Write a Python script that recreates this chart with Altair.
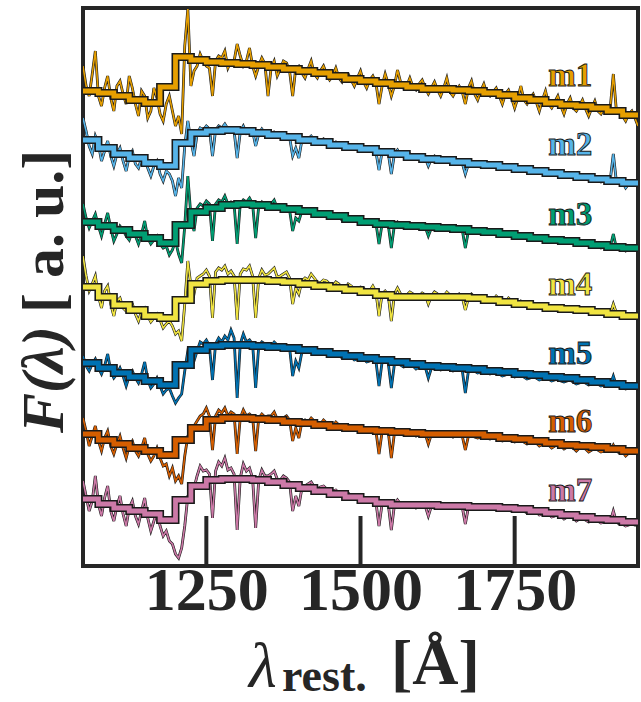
import altair as alt
import pandas as pd

# ---------------- data ----------------
SERIES = ["m1", "m2", "m3", "m4", "m5", "m6", "m7"]
COLORS = ["#E69F00", "#56B4E9", "#009E73", "#F0E442", "#0072B2", "#D55E00", "#CC79A7"]

WAVE_A = list(range(1050, 1951, 10))      # spectrum samples at 1050, 1060, ... [Å]
WAVE_B = list(range(1055, 1946, 10))      # spectrum samples at 1055, 1065, ... [Å]
BIN_EDGES = list(range(1050, 1951, 25))   # edges of the binned (step) spectra [Å]
TICKS = [1250, 1500, 1750]

# noisy spectra (arbitrary flux units, vertically offset), samples on WAVE_A
m1_a = [500, 470, 515, 460, 490, 455, 485, 462, 478, 450,
        470, 455, 468, 445, 470, 440, 432, 557, 495, 512,
        500, 470, 510, 515, 505, 522, 500, 518, 490, 508,
        470, 505, 497, 503, 470, 500, 488, 505, 488, 500,
        486, 498, 484, 492, 480, 495, 478, 490, 462, 492,
        470, 496, 478, 488, 476, 486, 472, 484, 470, 488,
        470, 480, 462, 485, 466, 482, 470, 478, 462, 476,
        458, 480, 462, 472, 455, 475, 458, 470, 452, 468,
        455, 466, 450, 465, 452, 460, 492, 452, 445, 455, 440]
m2_a = [448, 420, 430, 405, 425, 400, 418, 395, 415, 398,
        408, 390, 405, 385, 392, 370, 378, 445, 410, 438,
        440, 410, 440, 442, 436, 408, 440, 436, 420, 437,
        432, 434, 430, 431, 410, 408, 428, 430, 424, 427,
        421, 424, 419, 422, 418, 420, 416, 418, 396, 415,
        392, 416, 410, 412, 408, 410, 400, 410, 405, 408,
        403, 405, 392, 404, 401, 403, 399, 402, 397, 400,
        395, 398, 394, 397, 393, 395, 391, 393, 389, 392,
        387, 390, 386, 388, 384, 386, 412, 383, 378, 382, 381]
m3_a = [362, 338, 352, 330, 353, 325, 340, 330, 335, 322,
        345, 322, 330, 318, 311, 325, 303, 390, 335, 362,
        365, 325, 366, 370, 364, 322, 366, 368, 328, 364,
        361, 366, 358, 360, 335, 345, 356, 357, 352, 354,
        349, 352, 346, 349, 345, 346, 342, 345, 322, 342,
        318, 344, 340, 341, 338, 340, 330, 340, 337, 339,
        335, 337, 318, 336, 334, 335, 332, 334, 330, 332,
        329, 330, 327, 329, 326, 327, 324, 326, 323, 324,
        321, 322, 320, 321, 318, 320, 332, 317, 315, 317, 316]
m4_a = [310, 275, 290, 258, 280, 250, 268, 255, 262, 245,
        258, 244, 252, 238, 245, 232, 225, 305, 272, 290,
        296, 248, 298, 300, 295, 246, 297, 300, 248, 296,
        292, 298, 290, 294, 262, 272, 288, 292, 284, 286,
        282, 284, 278, 282, 277, 279, 274, 280, 250, 275,
        245, 278, 270, 274, 270, 273, 262, 274, 271, 274,
        270, 272, 256, 272, 268, 270, 266, 270, 264, 268,
        262, 265, 260, 263, 258, 262, 257, 260, 256, 258,
        255, 257, 253, 255, 252, 253, 262, 251, 249, 251, 249]
m5_a = [210, 195, 207, 192, 212, 188, 198, 180, 195, 183,
        204, 178, 188, 172, 178, 163, 172, 215, 205, 224,
        226, 186, 228, 230, 236, 168, 232, 226, 178, 224,
        222, 224, 219, 220, 190, 198, 216, 218, 213, 215,
        210, 213, 208, 211, 206, 208, 204, 207, 180, 204,
        178, 203, 199, 201, 197, 200, 188, 199, 196, 198,
        195, 197, 173, 196, 193, 195, 192, 194, 190, 193,
        189, 191, 187, 190, 186, 189, 185, 187, 184, 186,
        182, 185, 181, 183, 180, 182, 190, 179, 177, 179, 177]
m6_a = [148, 120, 140, 115, 135, 112, 130, 108, 125, 110,
        128, 105, 118, 100, 90, 85, 82, 130, 140, 150,
        158, 116, 156, 158, 154, 112, 156, 152, 115, 152,
        150, 154, 148, 150, 125, 128, 146, 148, 143, 146,
        141, 144, 138, 141, 137, 139, 135, 138, 112, 134,
        108, 134, 131, 133, 130, 133, 122, 132, 130, 133,
        129, 131, 116, 131, 128, 131, 127, 129, 125, 128,
        124, 126, 122, 125, 120, 123, 118, 122, 117, 120,
        115, 119, 114, 118, 114, 116, 121, 113, 110, 114, 112]
m7_a = [85, 55, 90, 50, 80, 45, 70, 40, 65, 42,
        68, 35, 55, 30, 25, 12, 18, 70, 78, 100,
        96, 48, 104, 108, 98, 36, 102, 98, 38, 96,
        90, 95, 86, 88, 55, 60, 80, 84, 77, 80,
        73, 76, 70, 73, 67, 70, 64, 67, 40, 64,
        36, 66, 60, 63, 58, 62, 50, 62, 59, 62,
        58, 61, 42, 61, 58, 60, 57, 59, 56, 59,
        55, 57, 53, 56, 51, 54, 49, 52, 47, 50,
        45, 48, 44, 46, 43, 45, 55, 42, 40, 42, 41]

# samples on WAVE_B
m1_b = [480, 492, 470, 478, 468, 480, 472, 490, 462, 475,
        448, 478, 452, 462, 455, 450, 520, 480, 500, 505,
        498, 505, 508, 498, 505, 510, 505, 500, 500, 502,
        498, 490, 505, 495, 498, 493, 497, 492, 495, 492,
        490, 488, 492, 486, 488, 484, 486, 483, 480, 482,
        480, 484, 480, 479, 482, 478, 478, 476, 478, 474,
        476, 474, 478, 472, 475, 472, 474, 470, 472, 468,
        468, 466, 468, 464, 466, 462, 464, 460, 462, 458,
        460, 457, 458, 455, 458, 458, 455, 450, 452, 448]
m2_b = [435, 412, 422, 415, 410, 412, 405, 410, 402, 408,
        398, 400, 392, 395, 385, 388, 420, 425, 432, 436,
        437, 436, 438, 437, 435, 434, 433, 435, 432, 433,
        431, 432, 430, 429, 418, 426, 427, 426, 425, 423,
        422, 421, 420, 419, 418, 417, 417, 414, 414, 413,
        412, 411, 410, 409, 409, 408, 407, 406, 406, 405,
        404, 403, 402, 402, 401, 400, 400, 399, 398, 397,
        396, 395, 395, 394, 393, 392, 392, 391, 390, 389,
        388, 387, 387, 386, 385, 386, 384, 384, 382, 381]
m3_b = [348, 345, 340, 342, 338, 332, 336, 326, 330, 332,
        328, 326, 322, 320, 316, 312, 340, 350, 358, 360,
        362, 362, 364, 362, 362, 362, 364, 362, 360, 360,
        362, 358, 360, 356, 348, 355, 355, 354, 353, 352,
        350, 349, 348, 347, 346, 345, 344, 343, 342, 341,
        341, 341, 340, 340, 339, 339, 338, 338, 338, 337,
        337, 336, 335, 335, 334, 334, 333, 332, 331, 330,
        329, 329, 328, 327, 326, 326, 325, 325, 324, 323,
        322, 322, 321, 320, 319, 319, 318, 318, 317, 316]
m4_b = [290, 282, 270, 275, 262, 265, 258, 262, 252, 255,
        250, 248, 246, 242, 240, 235, 262, 280, 288, 292,
        290, 294, 296, 292, 290, 292, 296, 290, 288, 291,
        295, 289, 292, 288, 278, 285, 286, 288, 283, 285,
        280, 282, 277, 280, 276, 278, 275, 274, 272, 271,
        272, 272, 271, 272, 270, 271, 270, 272, 270, 271,
        269, 269, 268, 269, 267, 268, 266, 267, 264, 265,
        262, 263, 261, 261, 259, 260, 258, 258, 257, 257,
        256, 255, 254, 254, 252, 252, 253, 250, 250, 249]
m5_b = [200, 202, 198, 200, 195, 192, 190, 190, 188, 192,
        186, 182, 180, 176, 170, 168, 195, 210, 215, 222,
        220, 222, 224, 226, 228, 222, 224, 222, 220, 222,
        220, 221, 219, 218, 205, 214, 215, 215, 213, 213,
        211, 211, 209, 209, 207, 207, 205, 205, 204, 203,
        202, 201, 200, 200, 199, 199, 198, 198, 197, 197,
        196, 196, 195, 195, 194, 194, 193, 192, 191, 191,
        190, 189, 188, 188, 187, 187, 186, 185, 185, 184,
        183, 183, 182, 182, 181, 181, 180, 179, 178, 178]
m6_b = [135, 130, 125, 128, 120, 122, 118, 120, 115, 118,
        112, 110, 108, 102, 98, 90, 110, 135, 145, 152,
        150, 150, 153, 150, 152, 148, 150, 149, 148, 149,
        150, 147, 148, 146, 138, 144, 144, 145, 142, 143,
        140, 141, 138, 139, 137, 137, 136, 135, 134, 134,
        133, 133, 133, 132, 132, 132, 132, 132, 131, 131,
        131, 130, 130, 129, 129, 128, 128, 127, 126, 126,
        125, 124, 123, 123, 122, 121, 120, 120, 119, 118,
        118, 117, 116, 116, 115, 115, 115, 114, 113, 113]
m7_b = [70, 65, 62, 68, 55, 60, 52, 58, 50, 55,
        48, 45, 40, 35, 22, 8, 40, 72, 90, 95,
        92, 95, 100, 96, 92, 88, 95, 88, 86, 90,
        92, 87, 90, 84, 70, 78, 82, 79, 79, 77,
        75, 73, 72, 70, 69, 67, 66, 64, 62, 62,
        61, 62, 61, 61, 60, 60, 60, 60, 60, 60,
        59, 59, 59, 59, 59, 58, 58, 58, 57, 57,
        56, 55, 54, 54, 52, 52, 50, 50, 49, 48,
        47, 46, 45, 45, 44, 44, 44, 42, 41, 41]

# binned spectra (one value per 25 Å bin)
b1 = [475, 473, 470, 466, 463, 479, 509, 506, 504, 503, 502, 501, 499, 497, 495, 493, 490, 487,
      485, 483, 481, 479, 477, 477, 476, 475, 473, 471, 468, 466, 463, 461, 460, 458, 455, 451]
b2 = [426, 418, 412, 408, 403, 400, 423, 433, 435, 436, 435, 433, 431, 429, 426, 424, 421, 419,
      417, 414, 412, 409, 407, 406, 404, 402, 401, 399, 397, 395, 393, 391, 389, 387, 385, 383]
b3 = [344, 340, 336, 332, 328, 323, 341, 354, 358, 361, 362, 361, 359, 357, 355, 352, 350, 347,
      344, 342, 341, 340, 339, 338, 337, 335, 334, 332, 330, 328, 326, 325, 323, 321, 319, 318]
b4 = [279, 269, 261, 256, 250, 248, 266, 282, 285, 286, 286, 286, 285, 284, 282, 280, 278, 276,
      274, 271, 269, 269, 269, 269, 269, 268, 266, 264, 262, 260, 258, 257, 256, 254, 252, 250]
b5 = [203, 198, 193, 189, 185, 181, 201, 216, 220, 221, 221, 220, 219, 218, 216, 214, 212, 210,
      208, 206, 204, 202, 200, 199, 198, 197, 195, 194, 192, 191, 189, 188, 186, 184, 182, 180]
b6 = [132, 126, 122, 118, 115, 111, 126, 138, 146, 148, 148, 147, 146, 144, 143, 141, 139, 138,
      136, 135, 134, 133, 132, 132, 132, 132, 130, 128, 127, 125, 123, 121, 120, 119, 117, 115]
b7 = [67, 62, 58, 55, 52, 46, 66, 80, 86, 87, 87, 86, 84, 81, 78, 75, 72, 69,
      66, 63, 61, 61, 61, 60, 60, 59, 59, 58, 57, 55, 53, 51, 49, 47, 46, 44]

NOISY_A = [m1_a, m2_a, m3_a, m4_a, m5_a, m6_a, m7_a]
NOISY_B = [m1_b, m2_b, m3_b, m4_b, m5_b, m6_b, m7_b]
BINNED = [b1, b2, b3, b4, b5, b6, b7]

LABEL_WAVE = 1840
LABEL_FLUX = [480, 411, 341, 271, 202, 134, 65]

# ---------------- tables ----------------
noisy_rows, step_rows = [], []
for name, va, vb, bvals in zip(SERIES, NOISY_A, NOISY_B, BINNED):
    for w, v in zip(WAVE_A, va):
        noisy_rows.append({"series": name, "wl": w, "flux": v})
    for w, v in zip(WAVE_B, vb):
        noisy_rows.append({"series": name, "wl": w, "flux": v})
    for w, v in zip(BIN_EDGES, bvals + [bvals[-1]]):
        step_rows.append({"series": name, "wl": w, "flux": v})
noisy_df = pd.DataFrame(noisy_rows).sort_values(["series", "wl"]).reset_index(drop=True)
step_df = pd.DataFrame(step_rows)
label_df = pd.DataFrame({"series": SERIES, "wl": [LABEL_WAVE] * 7, "flux": LABEL_FLUX, "color": COLORS})
tick_df = pd.DataFrame({"wl": TICKS})

W, H = 555, 558
xs = alt.Scale(domain=[1050, 1950], nice=False, zero=False)
ys = alt.Scale(domain=[0, 558], nice=False, zero=False)
SERIF = "Liberation Serif"
DARK = "#262626"

x_enc = alt.X("wl:Q", scale=xs,
              axis=alt.Axis(values=TICKS, title=None, grid=False, ticks=False, tickSize=0, domain=False,
                            labelFont=SERIF, labelFontWeight="bold", labelFontSize=62, labelColor=DARK,
                            labelPadding=-6, labelOverlap=False, labelFlush=False, format="d"))
y_enc = alt.Y("flux:Q", scale=ys, axis=None)

layers = []
for name, col in zip(SERIES, COLORS):
    nb = alt.Chart(noisy_df).transform_filter(alt.datum.series == name)
    sb = alt.Chart(step_df).transform_filter(alt.datum.series == name)
    layers.append(nb.mark_line(color="#1a1a1a", strokeWidth=2.8, clip=True).encode(x=x_enc, y=y_enc))
    layers.append(nb.mark_line(color=col, strokeWidth=1.6, clip=True).encode(x=x_enc, y=y_enc))
    layers.append(sb.mark_line(color="#1a1a1a", strokeWidth=8, interpolate="step-after", clip=True).encode(x=x_enc, y=y_enc))
    layers.append(sb.mark_line(color=col, strokeWidth=4.8, interpolate="step-after", clip=True).encode(x=x_enc, y=y_enc))

# inward ticks
layers.append(alt.Chart(tick_df).mark_rule(color=DARK, strokeWidth=4).encode(
    x=alt.X("wl:Q", scale=xs), y=alt.datum(0, scale=ys), y2=alt.datum(50)))

# series labels, coloured with a thin dark edge
layers.append(alt.Chart(label_df).mark_text(font=SERIF, fontWeight="bold", fontSize=33,
                                            stroke="#1a1a1a", strokeWidth=0.9,
                                            align="center", baseline="alphabetic").encode(
    x=alt.X("wl:Q", scale=xs), y=alt.Y("flux:Q", scale=ys), text="series:N",
    color=alt.Color("color:N", scale=None)))

# axis titles (mixed styles, so drawn as text)
one = pd.DataFrame({"t": [""]})
layers.append(alt.Chart(one).mark_text(text="λ", font=SERIF, fontStyle="italic", fontWeight="normal",
                                       fontSize=64, color=DARK, align="left", baseline="alphabetic").encode(
    x=alt.value(166), y=alt.value(679)))
layers.append(alt.Chart(one).mark_text(text="rest.", font=SERIF, fontWeight="bold",
                                       fontSize=46, color=DARK, align="left", baseline="alphabetic").encode(
    x=alt.value(199), y=alt.value(683)))
layers.append(alt.Chart(one).mark_text(text="[Å]", font=SERIF, fontWeight="bold",
                                       fontSize=64, color=DARK, align="left", baseline="alphabetic").encode(
    x=alt.value(308), y=alt.value(676)))
layers.append(alt.Chart(one).mark_text(text="F(λ)", font=SERIF, fontStyle="italic", fontWeight="bold",
                                       fontSize=60, color=DARK, angle=270, align="left", baseline="alphabetic").encode(
    x=alt.value(-20), y=alt.value(425)))
layers.append(alt.Chart(one).mark_text(text="[ a. u.]", font=SERIF, fontWeight="bold",
                                       fontSize=60, color=DARK, angle=270, align="left", baseline="alphabetic").encode(
    x=alt.value(-20), y=alt.value(305)))

chart = alt.layer(*layers).properties(
    width=W, height=H,
    autosize=alt.AutoSizeParams(type="none"),
    padding={"left": 83, "top": 8, "right": 3, "bottom": 136},
    background="white",
).configure_view(stroke=DARK, strokeWidth=4)

chart.save("out.html", embed_options={"renderer": "svg", "actions": False})
